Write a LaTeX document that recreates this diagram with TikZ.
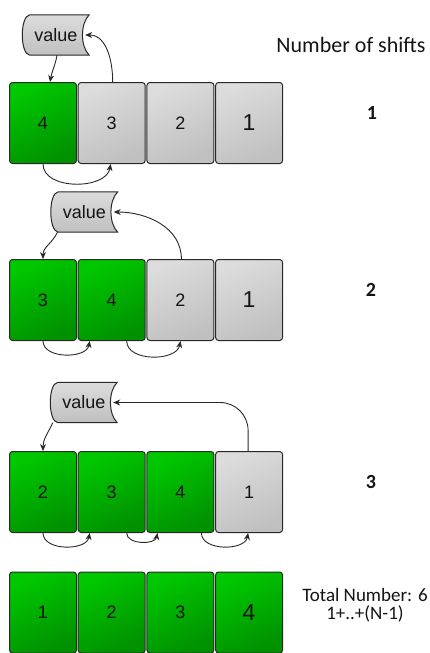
\documentclass[tikz,border=0pt]{standalone}
\usepackage{fontspec}
\setmainfont{Liberation Sans}
\newfontfamily\lblfont{Carlito}
\usetikzlibrary{arrows.meta,backgrounds}
\definecolor{gtop}{RGB}{0,200,0}
\definecolor{gbot}{RGB}{0,145,0}
\definecolor{ytop}{RGB}{220,220,220}
\definecolor{ybot}{RGB}{192,192,192}
\definecolor{edge}{RGB}{40,40,40}
\definecolor{ink}{RGB}{20,20,20}
\newcommand\valuepath[1]{%
  \path[valshape] ([xshift=7pt]#1.north west) -- (#1.north east)
    .. controls ([xshift=-9pt,yshift=-9pt]#1.north east) and ([xshift=-9pt,yshift=9pt]#1.south east) .. (#1.south east)
    -- ([xshift=7pt]#1.south west)
    .. controls ([xshift=-3pt,yshift=1pt]#1.south west) and ([xshift=-3pt,yshift=-1pt]#1.north west) .. ([xshift=7pt]#1.north west) -- cycle;}
\tikzset{
  cell/.style={draw=edge, line width=1pt, rounded corners=3pt, minimum width=67pt, minimum height=81pt, inner sep=0pt, text=ink, font=\fontsize{18}{18}\selectfont},
  done/.style={cell, top color=gtop, bottom color=gbot, shading angle=25},
  todo/.style={cell, top color=ytop, bottom color=ybot, shading angle=25},
  big/.style={font=\fontsize{23}{23}\selectfont},
  valbox/.style={minimum width=66pt, minimum height=40pt, inner sep=0pt, text=ink, font=\fontsize{18}{18}\selectfont},
  valshape/.style={draw=edge, line width=1pt, top color=ytop, bottom color=ybot},
  arr/.style={draw=edge, line width=0.9pt, -{Stealth[length=7pt,width=6pt]}},
  count/.style={text=ink, font=\lblfont\bfseries\fontsize{20}{20}\selectfont},
  lbl/.style={text=ink, font=\lblfont\fontsize{22}{22}\selectfont, align=center},
  lbltot/.style={text=ink, font=\lblfont\fontsize{19}{18}\selectfont, align=center},
}
\begin{document}
\begin{tikzpicture}[x=1pt,y=1pt]
\useasboundingbox (0,0) rectangle (430,-653);

% Row 1
\node[done] (b11) at (43,-123) {4};
\node[todo] (b12) at (111.7,-123) {3};
\node[todo] (b13) at (180.4,-123) {2};
\node[todo,big] (b14) at (249.1,-123) {1};
\node[valbox] (v1) at (56,-35) {value};
\begin{scope}[on background layer]\valuepath{v1}\end{scope}
\draw[arr] ([xshift=1pt]v1.south) to[out=-100,in=80] ([xshift=7pt]b11.north);
\draw[arr] ([xshift=1pt]b12.north) to[out=90,in=0] ([xshift=-4pt]v1.east);
\draw[arr] (b11.south) to[out=-90,in=-100] ([xshift=-1pt]b12.south);

% Row 2
\node[done] (b21) at (43,-300) {3};
\node[done] (b22) at (111.7,-300) {4};
\node[todo] (b23) at (180.4,-300) {2};
\node[todo,big] (b24) at (249.1,-300) {1};
\node[valbox] (v2) at (84.5,-212) {value};
\begin{scope}[on background layer]\valuepath{v2}\end{scope}
\draw[arr] ([xshift=-27pt]v2.south) to[out=-115,in=90] (b21.north);
\draw[arr] ([xshift=1pt]b23.north) to[out=90,in=0] ([xshift=-4pt]v2.east);
\draw[arr] (b21.south) to[out=-90,in=-100] ([xshift=-22pt]b22.south);
\draw[arr] ([xshift=15pt]b22.south) to[out=-90,in=-100] (b23.south);

% Row 3
\node[done] (b31) at (43,-492) {2};
\node[done] (b32) at (111.7,-492) {3};
\node[done] (b33) at (180.4,-492) {4};
\node[todo] (b34) at (249.1,-492) {1};
\node[valbox] (v3) at (84,-402.5) {value};
\begin{scope}[on background layer]\valuepath{v3}\end{scope}
\draw[arr] ([xshift=2pt]v3.south west) to[out=-115,in=90] (b31.north);
\draw[arr, rounded corners=28pt] ([xshift=-1pt]b34.north) |- ([xshift=-4pt]v3.east);
\draw[arr] (b31.south) to[out=-90,in=-100] ([xshift=-22pt]b32.south);
\draw[arr] ([xshift=15pt]b32.south) to[out=-90,in=-100] ([xshift=-23pt]b33.south);
\draw[arr] ([xshift=21pt]b33.south) to[out=-90,in=-100] ([xshift=-1pt]b34.south);

% Row 4
\node[done] (b41) at (43,-612.5) {1};
\node[done] (b42) at (111.7,-612.5) {2};
\node[done] (b43) at (180.4,-612.5) {3};
\node[done,big] (b44) at (249.1,-612.5) {4};

% Labels
\node[lbl] (hdr) at (351,-45) {Number of shifts};
\node[count] (c1) at (372,-113) {1};
\node[count] (c2) at (371,-290) {2};
\node[count] (c3) at (371,-482) {3};
\node[lbltot] (tot) at (365,-605) {Total Number: 6\\1+..+(N-1)};
\end{tikzpicture}
\end{document}
